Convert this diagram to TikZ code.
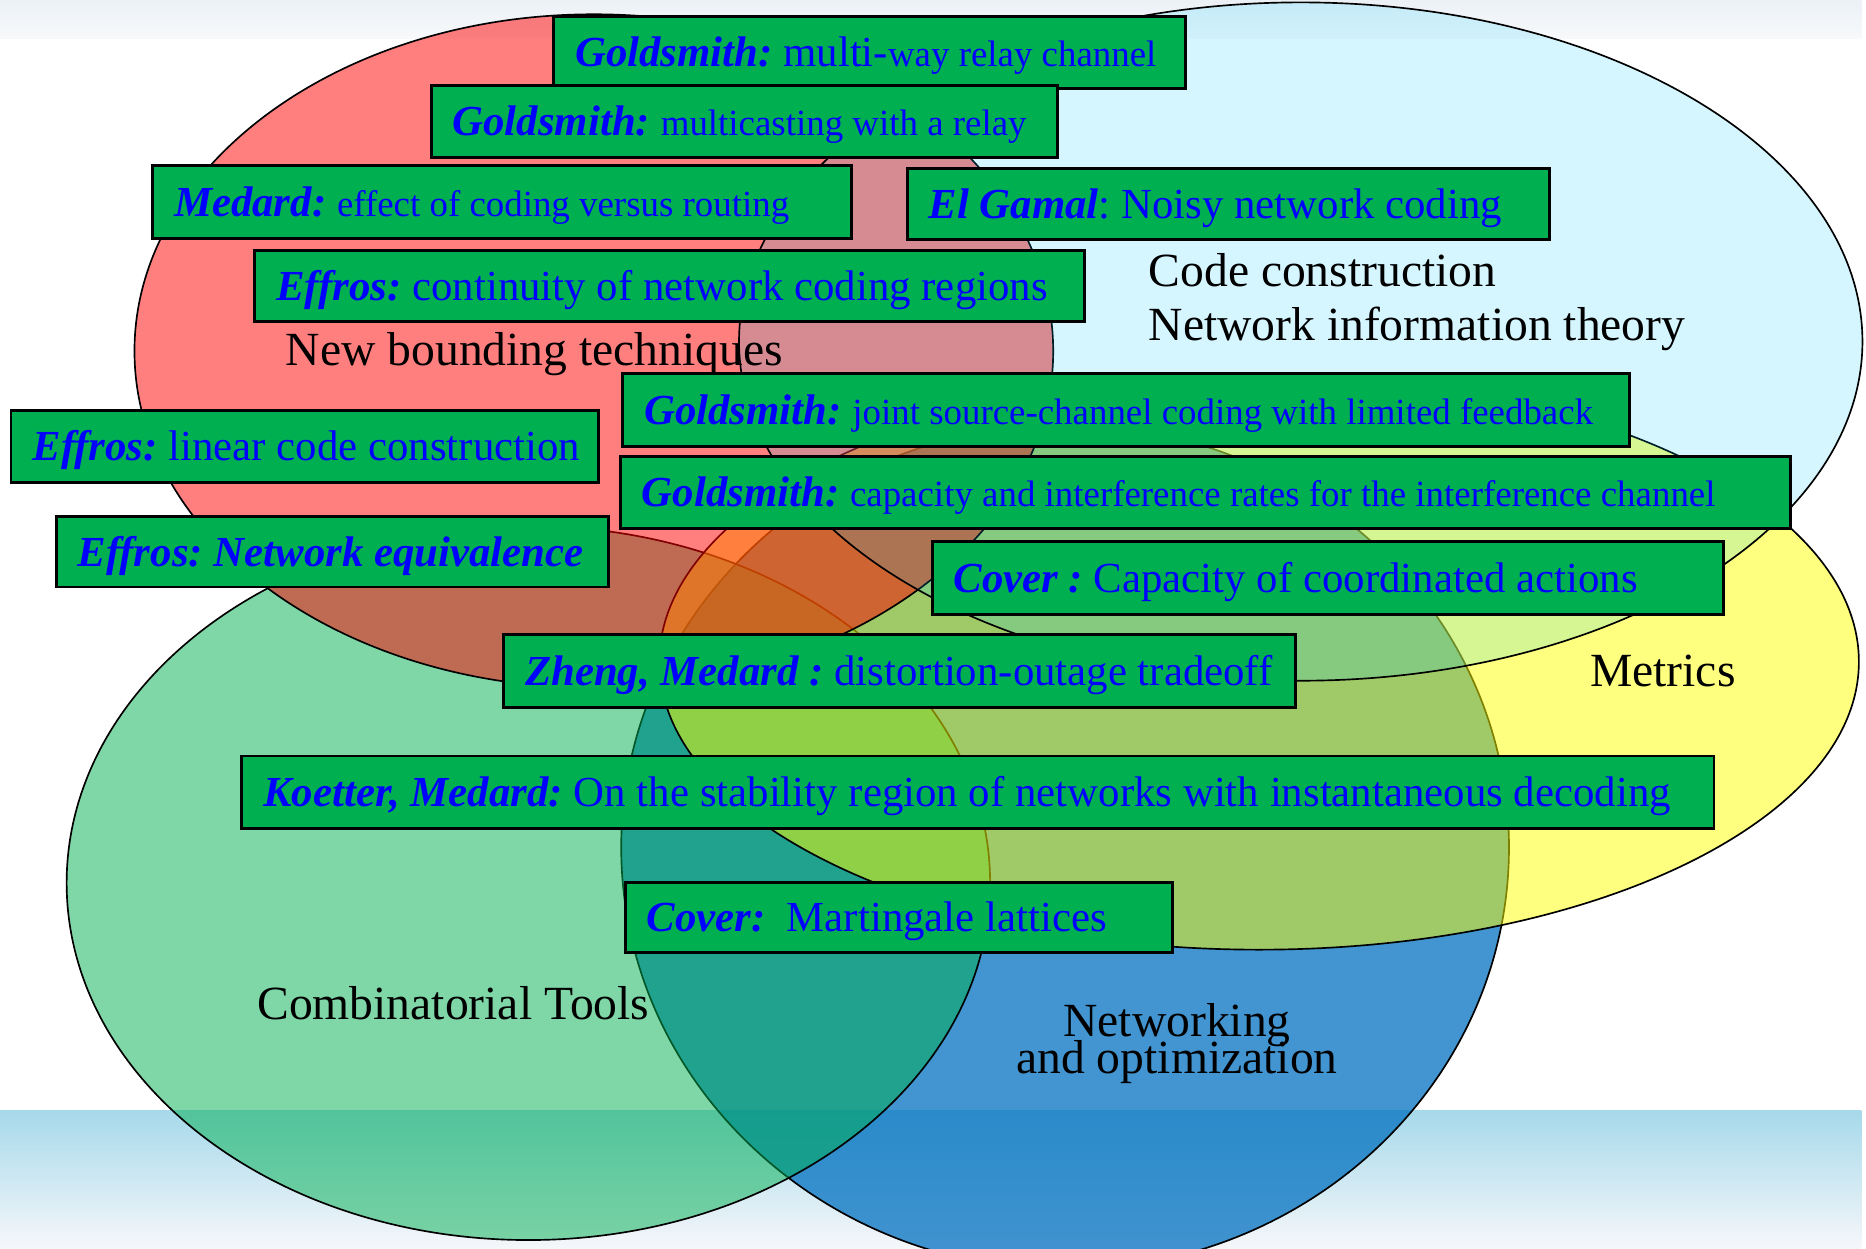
\documentclass[tikz,border=0pt]{standalone}
\usepackage{fontspec}
\setmainfont{Liberation Serif}
\definecolor{blueE}{RGB}{0,112,192}
\definecolor{greenE}{RGB}{0,176,80}
\definecolor{yellowE}{RGB}{255,255,0}
\definecolor{redE}{RGB}{255,0,0}
\definecolor{cyanE}{RGB}{0,204,255}
\definecolor{boxgreen}{RGB}{0,176,80}
\definecolor{textblue}{RGB}{0,0,255}
\definecolor{striptop}{RGB}{236,241,246}
\definecolor{stripbot}{RGB}{247,249,251}
\definecolor{bandtop}{RGB}{166,217,234}
\definecolor{bandmid}{RGB}{178,208,228}
\definecolor{bandbot}{RGB}{246,247,250}
\newcommand{\nm}[1]{{\bfseries\itshape #1}}
\newcommand{\sm}[1]{{\fontsize{31}{36}\selectfont #1}}
\newcommand{\bxt}[2]{\makebox[#1pt][l]{#2}}
\begin{document}
\begin{tikzpicture}[x=1pt,y=-1pt,
  ell/.style={draw=black, line width=1.4pt},
  tbox/.style={draw=black, line width=2.5pt, fill=boxgreen, text=textblue,
    anchor=north west, inner xsep=18pt, inner ysep=0pt,
    text height=28pt, text depth=4pt, font=\fontsize{36}{40}\selectfont\frenchspacing},
  lbl/.style={inner sep=0pt, font=\fontsize{40}{44}\selectfont, text=black}]
\useasboundingbox (0,0) rectangle (1568,1049);
\clip (0,0) rectangle (1568,1049);
\fill[white] (0,0) rectangle (1568,1049);
% background bands
\fill[top color=striptop, bottom color=stripbot] (0,0) rectangle (1564,32);
\fill[top color=bandtop, middle color=bandmid, bottom color=bandbot] (0,933) rectangle (1564,1049);
% ellipses
\draw[ell, fill=blueE, fill opacity=.74] (895,712) ellipse [x radius=373pt, y radius=355pt];
\draw[ell, fill=greenE, fill opacity=.5] (444,742) ellipse [x radius=388pt, y radius=300pt];
\draw[ell, fill=yellowE, fill opacity=.5] (1058,556) ellipse [x radius=504pt, y radius=242pt];
\draw[ell, fill=redE, fill opacity=.5] (499,295) ellipse [x radius=386pt, y radius=283pt];
\draw[ell, fill=cyanE, fill opacity=.16] (1093,287) ellipse [x radius=472pt, y radius=285pt];
% labels
\node[lbl, anchor=base west] (lnew) at (240,307) {New bounding techniques};
\node[lbl, anchor=base west] (lcode) at (965,241) {Code construction};
\node[lbl, anchor=base west] (lnit) at (965,286) {Network information theory};
\node[lbl, anchor=base west] (lmet) at (1336,577) {Metrics};
\node[lbl, anchor=base west] (lcomb) at (216,857) {Combinatorial Tools};
\node[lbl, anchor=base] (lnet) at (989,871) {Networking};
\node[lbl, anchor=base] (lopt) at (989,902) {and optimization};
% boxes
\node[tbox, minimum height=60pt] (b1) at (464,13) {\bxt{495}{\nm{Goldsmith:} multi-\sm{way relay channel}}};
\node[tbox, minimum height=60pt] (b2) at (361,71) {\bxt{490}{\nm{Goldsmith:} \sm{multicasting with a relay}}};
\node[tbox, minimum height=61pt] (b3) at (127,138) {\bxt{551}{\nm{Medard:} \sm{effect of coding versus routing}}};
\node[tbox, minimum height=60pt] (b4) at (761,140) {\bxt{504}{\nm{El Gamal}: Noisy network coding}};
\node[tbox, minimum height=60pt] (b5) at (213,209) {\bxt{661}{\nm{Effros:} continuity of network coding regions}};
\node[tbox, minimum height=61pt] (b7) at (522,313) {\bxt{810}{\nm{Goldsmith:} \sm{joint source-channel coding with limited feedback}}};
\node[tbox, minimum height=60pt] (b6) at (8,344) {\bxt{458}{\nm{Effros:} linear code construction}};
\node[tbox, minimum height=61pt] (b8) at (520,382) {\bxt{947}{\nm{Goldsmith:} \sm{capacity and interference rates for the interference channel}}};
\node[tbox, minimum height=59pt] (b9) at (46,433) {\bxt{428}{\nm{Effros: Network equivalence}}};
\node[tbox, minimum height=61pt] (b10) at (782,454) {\bxt{629}{\nm{Cover :} Capacity of coordinated actions}};
\node[tbox, minimum height=61pt] (b11) at (422,532) {\bxt{629}{\nm{Zheng, Medard :} distortion-outage tradeoff}};
\node[tbox, minimum height=61pt] (b12) at (202,634) {\bxt{1201}{\nm{Koetter, Medard:} On the stability region of networks with instantaneous decoding}};
\node[tbox, minimum height=59pt] (b13) at (524,740) {\bxt{424}{\nm{Cover:}\ \ Martingale lattices}};
\end{tikzpicture}
\end{document}
